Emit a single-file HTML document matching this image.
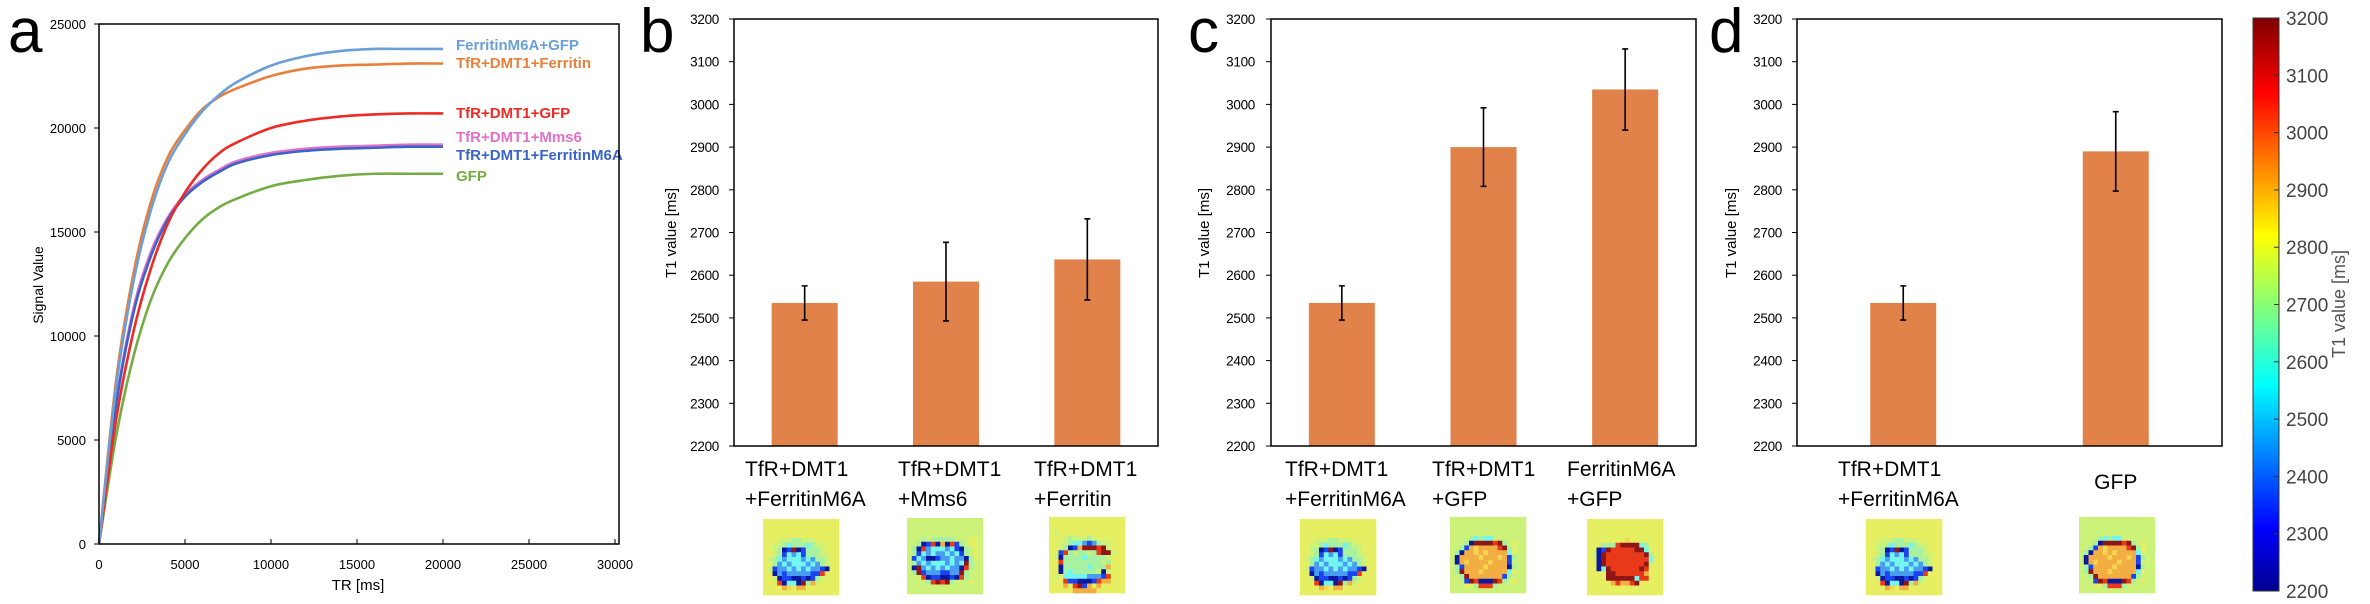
<!DOCTYPE html>
<html><head><meta charset="utf-8">
<style>
html,body{margin:0;padding:0;background:#fff;}
svg{display:block;font-family:"Liberation Sans","DejaVu Sans",sans-serif;}
</style></head>
<body>
<svg id="fig" width="2370" height="604" viewBox="0 0 2370 604" xmlns="http://www.w3.org/2000/svg">
<defs>
<linearGradient id="jet" x1="0" y1="1" x2="0" y2="0">
<stop offset="0" stop-color="#00008f"/><stop offset="0.11" stop-color="#0000ff"/>
<stop offset="0.36" stop-color="#00ffff"/><stop offset="0.62" stop-color="#ffff00"/>
<stop offset="0.87" stop-color="#ff0000"/><stop offset="1" stop-color="#800000"/>
</linearGradient>
</defs>
<g id="pa"></g>
<g id="pb"></g>
<g id="pc"></g>
<g id="pd"></g>
<g id="cb">
<rect x="2253" y="18" width="26" height="573" fill="url(#jet)" stroke="#333" stroke-width="1"/>
<text x="2345" y="304" transform="rotate(-90 2345 304)" text-anchor="middle" font-size="18" fill="#555">T1 value [ms]</text>
</g>
</svg>
<script>
// ---- Panel a data ----
const trValues = [0,1000,2000,3000,4000,5000,6000,7000,8000,10000,12000,14000,16000,18000,20000];
const seriesNames = ["FerritinM6A+GFP","TfR+DMT1+Ferritin","TfR+DMT1+GFP","TfR+DMT1+Mms6","TfR+DMT1+FerritinM6A","GFP"];
const serFerritinM6AGFP = [0,7600,12600,16000,18300,19700,20800,21600,22200,23000,23450,23700,23800,23800,23800];
const serFerritin = [0,7900,13000,16400,18600,19900,20900,21500,21900,22500,22850,23000,23050,23100,23100];
const serTfRGFP = [0,6000,10200,13200,15400,16900,18000,18800,19300,20000,20350,20550,20650,20700,20700];
const serMms6 = [0,6800,11300,14000,15700,16800,17500,18000,18400,18800,19000,19100,19150,19200,19200];
const serFerritinM6A = [0,6700,11100,13800,15600,16700,17400,17900,18300,18700,18900,19000,19050,19100,19100];
const serGFP = [0,5200,9000,11700,13500,14700,15600,16200,16600,17200,17500,17700,17800,17800,17800];
const aXTicks = [0,5000,10000,15000,20000,25000,30000];
const aYTicks = [0,5000,10000,15000,20000,25000];
// ---- Bar data ----
const bCats = [["TfR+DMT1","+FerritinM6A"],["TfR+DMT1","+Mms6"],["TfR+DMT1","+Ferritin"]];
const bVals = [2535,2585,2637];
const bErr = [40,92,95];
const cCats = [["TfR+DMT1","+FerritinM6A"],["TfR+DMT1","+GFP"],["FerritinM6A","+GFP"]];
const cVals = [2535,2900,3035];
const cErr = [40,92,95];
const dCats = [["TfR+DMT1","+FerritinM6A"],["GFP"]];
const dVals = [2535,2890];
const dErr = [40,93];
const barYTicks = [2200,2300,2400,2500,2600,2700,2800,2900,3000,3100,3200];
const cbTicks = [2200,2300,2400,2500,2600,2700,2800,2900,3000,3100,3200];

const NS="http://www.w3.org/2000/svg";
function mk(parent,tag,attrs,text){const e=document.createElementNS(NS,tag);for(const k in attrs)e.setAttribute(k,attrs[k]);if(text!==undefined)e.textContent=text;parent.appendChild(e);return e;}

// ---- Panel a ----
(function(){
const g=document.getElementById('pa');
const X0=99,X1=615,Y0=544,Y1=24;
const xs=v=>X0+(v-0)/30000*(X1-X0);
const ys=v=>Y0-(v/25000)*(Y0-Y1);
let t=mk(g,'text',{x:8,y:52,'font-size':62},'a');


aYTicks.forEach(v=>{
 let l=mk(g,'line',{x1:X0-5,x2:X0,y1:ys(v),y2:ys(v),stroke:'#000','stroke-width':1});
 
 
 let tx=mk(g,'text',{x:X0-13,y:ys(v)+5,'text-anchor':'end','font-size':13},String(v));
 
 
});
aXTicks.forEach(v=>{
 let l=mk(g,'line',{x1:xs(v),x2:xs(v),y1:Y0,y2:Y0-5,stroke:'#000','stroke-width':1});
 
 
 let tx=mk(g,'text',{x:xs(v),y:569,'text-anchor':'middle','font-size':13},String(v));
 
 
});
let yt=mk(g,'text',{x:43,y:285,'text-anchor':'middle','font-size':14,transform:'rotate(-90 43 285)'},'Signal Value');


let xt=mk(g,'text',{x:358,y:590,'text-anchor':'middle','font-size':15},'TR [ms]');


const series=[serFerritinM6AGFP,serFerritin,serTfRGFP,serMms6,serFerritinM6A,serGFP];
const colors=['#6a9fd8','#e8803c','#ee2a24','#e070c8','#3a64c8','#74ac44'];
const order=[5,3,4,2,1,0];
const labelY=[50,68,118,142,160,181];
order.forEach(i=>{
 const pts=trValues.map((tr,k)=>[xs(tr),ys(series[i][k])]);
 let d='M'+pts[0][0]+','+pts[0][1];
 for(let k=0;k<pts.length-1;k++){
  const p0=pts[Math.max(0,k-1)],p1=pts[k],p2=pts[k+1],p3=pts[Math.min(pts.length-1,k+2)];
  const c1x=p1[0]+(p2[0]-p0[0])/6,c1y=p1[1]+(p2[1]-p0[1])/6;
  const c2x=p2[0]-(p3[0]-p1[0])/6,c2y=p2[1]-(p3[1]-p1[1])/6;
  d+=` C${c1x},${c1y} ${c2x},${c2y} ${p2[0]},${p2[1]}`;
 }
 let p=mk(g,'path',{d:d,fill:'none',stroke:colors[i],'stroke-width':2.6});
 
 
});
seriesNames.forEach((n,i)=>{
 let tx=mk(g,'text',{x:456,y:labelY[i],'font-size':15,'font-weight':'bold',fill:colors[i]},n);
 
 
});
mk(g,'rect',{x:X0,y:Y1,width:X1-X0+4,height:Y0-Y1,fill:'none',stroke:'#000','stroke-width':1.5});
})();

// ---- thumbnails ----
const PAL={y:'#e6ef62',l:'#cdf27a',g:'#a6f2a0',c:'#74f6f0',b:'#4a9cf0',B:'#1a44f0',N:'#0a18a0',o:'#f2ae42',p:'#f4d452',r:'#e83a1a',R:'#8e1616'};
const TH={
blue:["yyyyyyyyyyyyyyyy","yyylllgglllyyyyy","yyllgcgggcgllyyy","yylgNBRNBggglyyy","yylgBcbcBgggllyy","ylgcbcccbcbgglyy","yygbcbcccbcbglyy","ylBbbcbcbcbbBNyy","yyNbBbbbbbBBryyy","yylNBBNNBNBglyyy","yyyrNccNRgolyyyy","yyyyopyooyyyyyyy","yyyyyyyyyyyyyyyy","yyyyyyyyyyyyyyyy","yyyyyyyyyyyyyyyy","yyyyyyyyyyyyyyyy"],
mms6:["llllllllllllllll","lllglggggglllyyl","llgNBrNoNrBglyyl","lgNrbcccbcBNglyl","lgBcbcbbcbcBglyl","lBcbNNBbbcbbNgyl","lgbcbcccbcbcRgll","lNRbcbcbcbbNrgll","lgRBbbbBBbbRglll","lllrNBBNNBNrglll","llllgrRrRglllyll","llllllllllllllll","llllllllllllllll","llllllllllllllll","llllllllllllllll","llllllllllllllll"],
ferritin:["ylyyyyyyyyyyyyyy","yyylglllglyyyyyy","yyllgccbBbgllyyy","yylgNBoRRRrRlyyy","yyBrglgglgrRRlyy","ylNggggcgggglyyy","yyrgggggggglgyyy","yyNgggggcgggoyyy","yyNgcggggglNlyyy","ylycccccbbbBryyy","yyyrBBNNNBrooyyy","yyyoyrRBoyoyyyyy","yyyyyoooooyyyyyy","yyyyyyyyyyyyyyyy","yyyyyyyyyyyyyyyy","yyyyyyyyyyyyyyyy"],
orange:["llllllllllllllll","llllgcgcclllllll","lllgNRRRRrRglyll","llgBopoooorRgyll","lgNoopopoooocyll","lNoooopooopoBgll","lNopoooopoooBlll","lgBoooopooooNgll","lgRooopooooocyll","llgRoooooooBglll","lllBRrNNNRrglyll","lllyygrrrgllllll","llllllllllllllll","llllllllllllllll","llllllllllllllll","llllllllllllllll"],
red:["yyyyyyyyyyyyyyyy","yyyyyyyypyyyyyyy","yyygggrRRRRcgyyy","yyNBRrrrrrRRcyyy","ylNRrrrrrrrrRgyy","yyNRrrrrrrrrrcyy","yyNRrrrrrrrrRlyy","yyNcRrrrrrrRryyy","yyyyRRrrrrrroyyy","yyyyRRRRRRcrryyy","yyyyyoroorRyyyyy","yyyyyyyyyyyyyyyy","yyyyyyyyyyyyyyyy","yyyyyyyyyyyyyyyy","yyyyyyyyyyyyyyyy","yyyyyyyyyyyyyyyy"]
};
function thumb(parent,map,x,y,size,name){
 const g=mk(parent,'g',{});
 
 
 const rows=TH[map],n=rows.length,cs=size/n;
 for(let r=0;r<n;r++)for(let c=0;c<16;c++){
  const ch=rows[(r+n-3)%n][c];
  mk(g,'rect',{x:x+c*cs,y:y+r*cs,width:cs+0.3,height:cs+0.3,fill:PAL[ch]||PAL.y});
 }
}

// ---- Bar panels ----
function barPanel(id,letter,lx,X0,X1,cats,vals,errs,labelXs,thumbs,tickRight,titleX){
 const g=document.getElementById(id);
 const Y0=446,Y1=19;
 const ys=v=>Y0-(v-2200)/1000*(Y0-Y1);
 const slot=(X1-X0)/cats.length;
 let t=mk(g,'text',{x:lx,y:52,'font-size':62},letter);
 
 
 barYTicks.forEach(v=>{
  let l=mk(g,'line',{x1:X0-5,x2:X0,y1:ys(v),y2:ys(v),stroke:'#000','stroke-width':1});
  
  
  let tx=mk(g,'text',{x:tickRight,y:ys(v)+5,'text-anchor':'end','font-size':13.5,'letter-spacing':'-0.3'},String(v));
  
  
 });
 let yt=mk(g,'text',{x:titleX,y:233,'text-anchor':'middle','font-size':15,transform:`rotate(-90 ${titleX} 233)`},'T1 value [ms]');
 
 
 vals.forEach((v,i)=>{
  const cx=X0+slot*(i+0.5),bw=66;
  let b=mk(g,'rect',{x:cx-bw/2,y:ys(v),width:bw,height:Y0-ys(v),fill:'#e0824a'});
  
  
  const hi=ys(v+errs[i]),lo=ys(v-errs[i]);
  let e=mk(g,'path',{d:`M${cx},${hi}V${lo}M${cx-3},${hi}H${cx+3}M${cx-3},${lo}H${cx+3}`,stroke:'#000','stroke-width':1.6,fill:'none'});
  
  
  const lines=cats[i];
  if(lines.length===1){
   let tx=mk(g,'text',{x:cx,y:489,'text-anchor':'middle','font-size':21},lines[0]);
   
   
  } else {
   let tx=mk(g,'text',{x:labelXs[i],y:476,'font-size':21},lines[0]);
   
   
   let tx2=mk(g,'text',{x:labelXs[i],y:506,'font-size':21},lines[1]);
   
   
  }
  thumb(g,thumbs[i][0],thumbs[i][1],thumbs[i][2],76,'roi-thumbnail');
 });
 mk(g,'rect',{x:X0,y:Y1,width:X1-X0,height:Y0-Y1,fill:'none',stroke:'#000','stroke-width':1.5});
}
barPanel('pb','b',640,734,1158,bCats,bVals,bErr,[745,898,1034],[['blue',763,519],['mms6',907,518],['ferritin',1049,517]],719,676);
barPanel('pc','c',1188,1271,1696,cCats,cVals,cErr,[1285,1432,1567],[['blue',1300,519],['orange',1450,517],['red',1587,519]],1255,1209);
barPanel('pd','d',1709,1797,2222,dCats,dVals,dErr,[1838,0],[['blue',1866,519],['orange',2079,517]],1782,1736);

// ---- colorbar ticks ----
(function(){
 const g=document.getElementById('cb');
 const ys=v=>591-(v-2200)/1000*573;
 cbTicks.forEach(v=>{
  let l=mk(g,'line',{x1:2274,x2:2279,y1:ys(v),y2:ys(v),stroke:'#333','stroke-width':1});
  
  
  let tx=mk(g,'text',{x:2286,y:ys(v)+7,'font-size':19,fill:'#444'},String(v));
  
  
 });
})();
</script>
</body></html>
